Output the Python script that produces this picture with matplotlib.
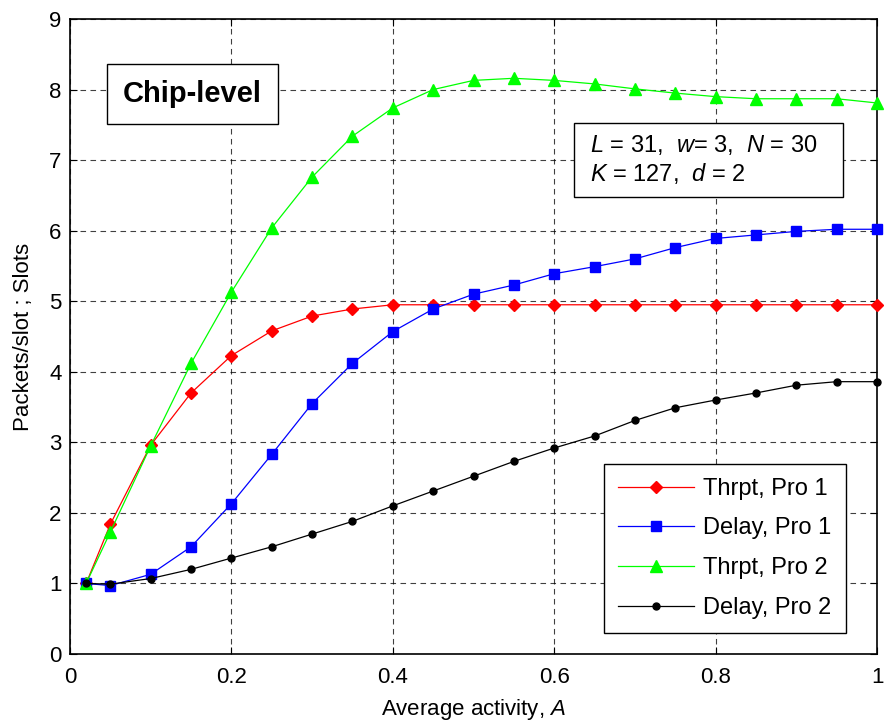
import matplotlib
matplotlib.use('Agg')
import matplotlib.pyplot as plt
from matplotlib.patches import Rectangle

plt.rcParams['font.family'] = ['Liberation Sans', 'DejaVu Sans']
plt.rcParams['mathtext.fontset'] = 'custom'
plt.rcParams['mathtext.it'] = 'Liberation Sans:italic'
plt.rcParams['mathtext.rm'] = 'Liberation Sans'

# data
activity = [0.02, 0.05, 0.10, 0.15, 0.20, 0.25, 0.30, 0.35, 0.40, 0.45, 0.50,
            0.55, 0.60, 0.65, 0.70, 0.75, 0.80, 0.85, 0.90, 0.95, 1.00]
thrpt_pro1 = [1.00, 1.84, 2.96, 3.70, 4.23, 4.58, 4.79, 4.89, 4.95, 4.95, 4.95,
              4.95, 4.95, 4.95, 4.95, 4.95, 4.95, 4.95, 4.95, 4.95, 4.95]
delay_pro1 = [1.00, 0.97, 1.13, 1.52, 2.13, 2.83, 3.55, 4.12, 4.57, 4.89, 5.10,
              5.23, 5.39, 5.49, 5.60, 5.76, 5.89, 5.94, 5.99, 6.02, 6.02]
thrpt_pro2 = [1.00, 1.73, 2.95, 4.12, 5.13, 6.04, 6.76, 7.34, 7.74, 8.00, 8.13,
              8.16, 8.13, 8.08, 8.01, 7.95, 7.90, 7.87, 7.87, 7.87, 7.81]
delay_pro2 = [1.00, 0.99, 1.07, 1.20, 1.36, 1.52, 1.70, 1.88, 2.10, 2.31, 2.52,
              2.73, 2.92, 3.09, 3.31, 3.49, 3.60, 3.70, 3.81, 3.86, 3.86]

series = [
    (thrpt_pro1, 'Thrpt, Pro 1', '#ff0000', 'D', 6.5),
    (delay_pro1, 'Delay, Pro 1', '#0000ff', 's', 6.5),
    (thrpt_pro2, 'Thrpt, Pro 2', '#00ff00', '^', 8),
    (delay_pro2, 'Delay, Pro 2', '#000000', 'o', 5),
]

fig = plt.figure(figsize=(8.85, 7.23), dpi=100)
ax = fig.add_axes([0.0791, 0.0954, 0.9119, 0.8783])

for values, label, color, marker, msize in series:
    ax.plot(activity, values, color=color, marker=marker, markersize=msize,
            linewidth=0.9, label=label, clip_on=False, zorder=3)

ax.set_xlim(0, 1)
ax.set_ylim(0, 9)
ax.set_xticks([0, 0.2, 0.4, 0.6, 0.8, 1])
ax.set_xticklabels(['0', '0.2', '0.4', '0.6', '0.8', '1'])
ax.set_yticks(range(10))
ax.tick_params(direction='in', top=True, right=True, labelsize=16, length=5, width=0.8, pad=6)
ax.tick_params(axis='x', pad=9)
ax.grid(True, color='black', linestyle=(0, (5, 4)), linewidth=0.8, alpha=0.75)
for sp in ax.spines.values():
    sp.set_linewidth(1.2)

ax.set_xlabel('Average activity, $A$', fontsize=16, labelpad=7)
ax.set_ylabel('Packets/slot ; Slots', fontsize=16, labelpad=11)

ax.text(0.152, 0.882, 'Chip-level', transform=ax.transAxes, fontsize=21,
        fontweight='bold', ha='center', va='center', zorder=5,
        bbox=dict(boxstyle='square,pad=0.55', facecolor='white', edgecolor='black', linewidth=1))

# parameter box
ax.add_patch(Rectangle((0.6245, 0.7197), 0.3333, 0.1165, transform=ax.transAxes,
                       facecolor='white', edgecolor='black', linewidth=1, zorder=5))
ax.text(0.6444, 0.778, '$L$ = 31,  $w$= 3,  $N$ = 30\n$K$ = 127,  $d$ = 2',
        transform=ax.transAxes, fontsize=17, ha='left', va='center',
        linespacing=1.2, zorder=6)

leg = ax.legend(loc='lower right', bbox_to_anchor=(0.961, 0.033),
                prop={'size': 17},
                frameon=True, fancybox=False, edgecolor='black', framealpha=1,
                handlelength=3.2, borderpad=0.6, labelspacing=0.75, handletextpad=0.4,
                borderaxespad=0)
leg.get_frame().set_linewidth(1)
leg.set_zorder(7)

fig.savefig('out.png', dpi=100)
